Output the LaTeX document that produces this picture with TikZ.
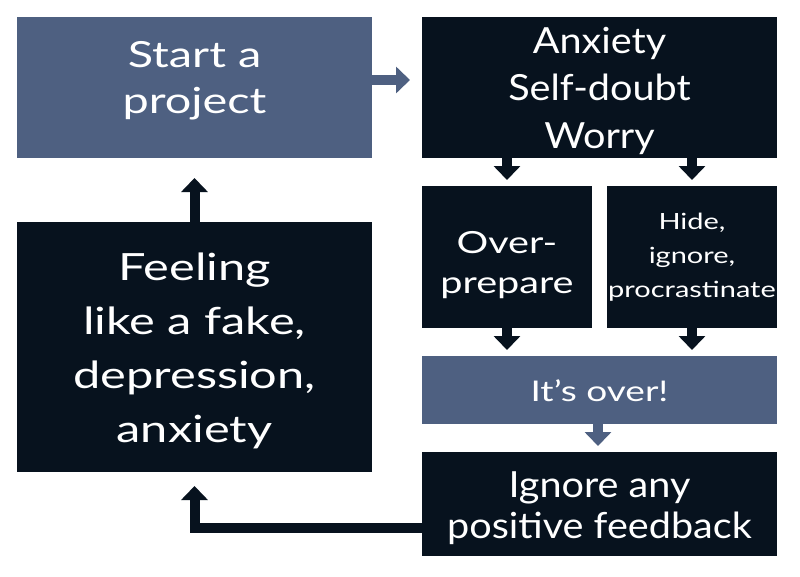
\documentclass[tikz,border=0pt]{standalone}
\usepackage{fontspec}
\setmainfont[FakeStretch=1.3]{Lato}
\newfontfamily\slimfont[FakeStretch=1.1]{Lato}
\usetikzlibrary{arrows.meta}
\definecolor{slate}{HTML}{4E6081}
\definecolor{ink}{HTML}{07121E}
\tikzset{
  box/.style={draw=none, text=white, align=center, inner sep=0pt, outer sep=0pt, text depth=0pt},
  wide/.style={box, minimum width=355pt},
  half/.style={box, minimum width=170pt, minimum height=142pt},
  flow/.style={line width=10pt, -{Triangle[width=26pt,length=14pt]}},
}
\newcommand{\fs}[2]{\fontsize{#1}{#2}\selectfont}
\begin{document}
\begin{tikzpicture}[x=1pt,y=-1pt]
        \fill[white] (0,0) rectangle (800,576);
        \useasboundingbox (0,0) rectangle (800,576);
        % top row
        \node[wide, fill=slate, minimum height=141pt, text height=51pt, font=\fs{36}{46}] (start) at (194.5,87.5) {Start a\\project};
        \node[wide, fill=ink, minimum height=141pt, text height=121pt, font=\slimfont\fs{36}{47.5}] (worry) at (599.5,87.5) {Anxiety\\Self-doubt\\Worry};
        % the two ways out
        \node[half, fill=ink, text height=72pt, font=\fs{30.5}{40}] (prep) at (507,257) {Over-\\prepare};
        \node[half, fill=ink, text height=80pt, font=\fs{22.3}{34}] (hide) at (692,257) {Hide,\\ignore,\\procrastinate};
        \node[wide, fill=slate, minimum height=68pt, text height=22pt, font=\fs{28.5}{32}] (over) at (599.5,390) {It’s over!};
        \node[wide, fill=ink, minimum height=104pt, text height=68pt, font=\slimfont\fs{36}{41}] (ignore) at (599.5,504) {Ignore any\\positive feedback};
        \node[wide, fill=ink, minimum height=250pt, text height=190pt, font=\fs{37.5}{54}] (feel) at (194.5,347) {Feeling\\like a fake,\\depression,\\anxiety};
        % arrows
        \draw[flow, slate, shorten >=12pt] ([yshift=7.5pt]start.east) -- ([yshift=7.5pt]worry.west);
        \draw[flow, ink, shorten >=6pt] (prep.north |- worry.south) -- (prep.north);
        \draw[flow, ink, shorten >=6pt] (hide.north |- worry.south) -- (hide.north);
        \draw[flow, ink, shorten >=6pt] (prep.south) -- (prep.south |- over.north);
        \draw[flow, ink, shorten >=6pt] (hide.south) -- (hide.south |- over.north);
        \draw[flow, slate, shorten >=6pt] (over.south -| 598,0) -- (ignore.north -| 598,0);
        \draw[flow, ink, shorten >=14pt] ([yshift=-23.5pt]ignore.west) -| (feel.south);
        \draw[flow, ink, shorten >=20pt] (feel.north) -- (start.south);
      \end{tikzpicture}
\end{document}
